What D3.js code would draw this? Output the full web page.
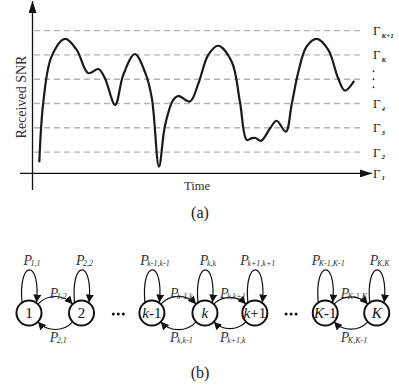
<!DOCTYPE html>
<html>
<head>
<meta charset="utf-8">
<script src="https://cdn.jsdelivr.net/npm/d3@7"></script>
<style>
  body { margin: 0; background: #fff; }
  svg { display: block; }
  text { font-family: "Liberation Serif", "Times New Roman", serif; }
</style>
</head>
<body>
<script>
var W = 399, H = 392;

// received SNR trace (time in arbitrary units, SNR in threshold units)
var timeVals = [2.0, 3.2, 5.6, 9.6, 13.0, 16.4, 19.4, 21.3, 24.3, 26.7, 30.1, 33.2, 35.1, 37.2, 39.0, 41.4, 42.9, 46.3, 48.8, 51.7, 54.6, 58.6, 61.0, 63.0, 64.5, 65.6, 67.2, 69.9, 71.8, 74.5, 76.2, 78.2, 80.6, 83.6, 87.0, 89.9, 91.9, 94.6];
var snrVals  = [0.58, 3.08, 4.93, 5.66, 5.21, 4.25, 4.42, 4.04, 2.94, 4.18, 5.04, 4.25, 3.22, 0.40, 2.11, 3.15, 3.31, 3.08, 3.83, 5.00, 5.38, 4.72, 3.08, 1.50, 1.57, 1.58, 1.46, 1.98, 2.29, 1.84, 2.94, 4.31, 5.34, 5.66, 5.21, 4.04, 3.53, 3.93];

// thresholds Gamma_1 .. Gamma_{K+1}
var thresholdLevels = [0.12, 1, 2, 3, 4, 5, 6];
var thresholdSubs   = ["1", "2", "3", "4", null, "K", "K+1"];

// Markov chain states
var stateLabels = [["1"], ["2"], ["k", "-1"], ["k"], ["k", "+1"], ["K", "-1"], ["K"]];
var stateSlots  = [0, 1.0, 2.34, 3.35, 4.30, 5.64, 6.62];
var ellipsisSlots = [1.70, 4.99];
var selfSubs = ["1,1", "2,2", "k-1,k-1", "k,k", "k+1,k+1", "K-1,K-1", "K,K"];
var forwardPairs = [[0, 1], [2, 3], [3, 4], [5, 6]];
var forwardSubs  = ["1,2", "k-1,k", "k,k+1", "K-1,K"];
var backwardSubs = ["2,1", "k,k-1", "k+1,k", "K,K-1"];

var svg = d3.select("body").append("svg")
    .attr("width", W)
    .attr("height", H);

var defs = svg.append("defs");
function addMarker(id, len, wid) {
  defs.append("marker")
      .attr("id", id)
      .attr("viewBox", "0 0 " + len + " " + wid)
      .attr("refX", len).attr("refY", wid / 2)
      .attr("markerWidth", len).attr("markerHeight", wid)
      .attr("markerUnits", "userSpaceOnUse")
      .attr("orient", "auto")
    .append("path")
      .attr("d", "M0,0 L" + len + "," + (wid / 2) + " L0," + wid + " Z")
      .attr("fill", "#111");
}
addMarker("axisArrow", 12, 8);
addMarker("arrow", 8, 8);

// ---------- (a) ----------
var xScale = d3.scaleLinear().domain([0, 100]).range([32.5, 372.5]);
var yScale = d3.scaleLinear().domain([0, 6]).range([176.3, 30.7]);
var axisY = yScale(thresholdLevels[0]);

//dashed threshold lines
svg.selectAll("line.thr")
   .data(thresholdLevels.slice(1))
   .enter()
   .append("line")
   .attr("class", "thr")
   .attr("x1", 34).attr("x2", 360)
   .attr("y1", function(d) { return yScale(d); })
   .attr("y2", function(d) { return yScale(d); })
   .attr("stroke", "#b4b4b4")
   .attr("stroke-width", 1.3)
   .attr("stroke-dasharray", "6,4");

//axes
svg.append("line")
   .attr("x1", 32.5).attr("y1", 190)
   .attr("x2", 32.5).attr("y2", 1)
   .attr("stroke", "#111").attr("stroke-width", 1.3)
   .attr("marker-end", "url(#axisArrow)");

svg.append("line")
   .attr("x1", 20).attr("y1", axisY)
   .attr("x2", 372).attr("y2", axisY)
   .attr("stroke", "#111").attr("stroke-width", 1.3)
   .attr("marker-end", "url(#axisArrow)");

//SNR curve
var line = d3.line()
    .x(function(d, i) { return xScale(timeVals[i]); })
    .y(function(d) { return yScale(d); })
    .curve(d3.curveCatmullRom.alpha(0.5));

svg.append("path")
   .datum(snrVals)
   .attr("d", line)
   .attr("fill", "none")
   .attr("stroke", "#1a1a1a")
   .attr("stroke-width", 2.2);

//threshold labels
thresholdLevels.forEach(function(v, i) {
  var y = yScale(v);
  if (thresholdSubs[i] === null) {
    [-8, 0, 8].forEach(function(o) {
      svg.append("circle")
         .attr("cx", 373.5).attr("cy", y + o)
         .attr("r", 0.9).attr("fill", "#333");
    });
    return;
  }
  var t = svg.append("text")
     .attr("x", 373)
     .attr("y", y + 4.5)
     .attr("fill", "#222");
  t.append("tspan").attr("font-size", 13).text("Γ");
  t.append("tspan")
   .attr("font-size", 7)
   .attr("font-style", "italic")
   .attr("font-weight", "bold")
   .attr("dx", 1).attr("dy", 2.5)
   .text(thresholdSubs[i]);
});

//axis labels
svg.append("text")
   .attr("transform", "translate(26," + 97 + ") rotate(-90)")
   .attr("text-anchor", "middle")
   .attr("font-size", 14)
   .attr("fill", "#333")
   .text("Received SNR");

svg.append("text")
   .attr("x", 197).attr("y", 190)
   .attr("text-anchor", "middle")
   .attr("font-size", 12.5)
   .attr("fill", "#333")
   .text("Time");

svg.append("text")
   .attr("x", 200).attr("y", 218)
   .attr("text-anchor", "middle")
   .attr("font-family", "DejaVu Serif")
   .attr("font-size", 16)
   .attr("fill", "#222")
   .text("(a)");

// ---------- (b) ----------
var sx = d3.scaleLinear().domain([0, 6.62]).range([29, 376.7]);
var cy = 313, r = 12.5;

function pLabel(x, y, sub) {
  var t = svg.append("text")
     .attr("x", x).attr("y", y)
     .attr("text-anchor", "middle")
     .attr("fill", "#333")
     .attr("font-style", "italic");
  t.append("tspan").attr("font-size", 14).text("P");
  t.append("tspan").attr("font-size", 8).attr("dx", -1.5).attr("dy", 1).text(sub);
}

//self loops
stateSlots.forEach(function(s, i) {
  var cx = sx(s);
  svg.append("path")
     .attr("d", "M" + (cx - 7) + "," + (cy - 10.5) +
                " C" + (cx - 11) + "," + (cy - 54) + " " + (cx + 12) + "," + (cy - 54) +
                " " + (cx + 7.5) + "," + (cy - 10.5))
     .attr("fill", "none")
     .attr("stroke", "#111")
     .attr("stroke-width", 1.2)
     .attr("marker-end", "url(#arrow)");
  pLabel(cx + 3, cy - 48, selfSubs[i]);
});

//forward and backward transitions
forwardPairs.forEach(function(p, i) {
  var x1 = sx(stateSlots[p[0]]), x2 = sx(stateSlots[p[1]]);
  var off = r * Math.SQRT1_2;
  var R = (x2 - x1) * 0.45;
  svg.append("path")
     .attr("d", "M" + (x1 + off) + "," + (cy - off) +
                " A" + R + "," + R + " 0 0 1 " + (x2 - off) + "," + (cy - off))
     .attr("fill", "none").attr("stroke", "#111").attr("stroke-width", 1.2)
     .attr("marker-end", "url(#arrow)");
  svg.append("path")
     .attr("d", "M" + (x2 - off) + "," + (cy + off) +
                " A" + R + "," + R + " 0 0 1 " + (x1 + off) + "," + (cy + off))
     .attr("fill", "none").attr("stroke", "#111").attr("stroke-width", 1.2)
     .attr("marker-end", "url(#arrow)");
  var mid = (x1 + x2) / 2;
  pLabel(mid + 3, cy - 15, forwardSubs[i]);
  pLabel(mid + 3, cy + 29, backwardSubs[i]);
});

//state circles
stateSlots.forEach(function(s, i) {
  var cx = sx(s);
  svg.append("circle")
     .attr("cx", cx).attr("cy", cy).attr("r", r)
     .attr("fill", "#fff")
     .attr("stroke", "#111")
     .attr("stroke-width", 2);
  var t = svg.append("text")
     .attr("x", cx).attr("y", cy + 5)
     .attr("text-anchor", "middle")
     .attr("font-size", 15)
     .attr("fill", "#111");
  var lab = stateLabels[i];
  t.append("tspan")
   .attr("font-style", /[kK]/.test(lab[0]) ? "italic" : "normal")
   .text(lab[0]);
  if (lab[1]) t.append("tspan").text(lab[1]);
});

//ellipses
ellipsisSlots.forEach(function(s) {
  [-5, 0, 5].forEach(function(o) {
    svg.append("circle")
       .attr("cx", sx(s) + o).attr("cy", cy + 1)
       .attr("r", 1.5).attr("fill", "#111");
  });
});

svg.append("text")
   .attr("x", 200).attr("y", 378)
   .attr("text-anchor", "middle")
   .attr("font-family", "DejaVu Serif")
   .attr("font-size", 16)
   .attr("fill", "#222")
   .text("(b)");
</script>
</body>
</html>
